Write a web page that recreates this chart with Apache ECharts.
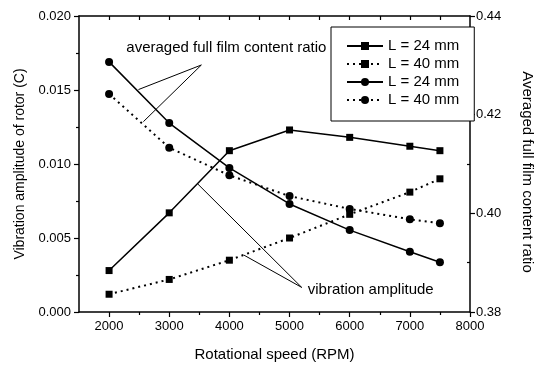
<!DOCTYPE html>
<html>
<head>
<meta charset="utf-8">
<script src="https://cdn.jsdelivr.net/npm/echarts@6/dist/echarts.min.js"></script>
<style>
  html, body { margin: 0; padding: 0; background: #fff; }
  #chart { width: 543px; height: 367px; }
</style>
</head>
<body>
<div id="chart"></div>
<script>
// Rotational speed (RPM)
const speeds = [2000, 3000, 4000, 5000, 6000, 7000, 7500];

// Vibration amplitude of rotor (C), left axis
const amplitude24 = [0.0028, 0.0067, 0.0109, 0.0123, 0.0118, 0.0112, 0.0109];
const amplitude40 = [0.0012, 0.0022, 0.0035, 0.0050, 0.0066, 0.0081, 0.0090];

// Averaged full film content ratio, right axis
const ratio24 = [0.4307, 0.4183, 0.4092, 0.4019, 0.3966, 0.3922, 0.3901];
const ratio40 = [0.4242, 0.4133, 0.4077, 0.4035, 0.4009, 0.3988, 0.3980];

const legendLabels = {
  amp24: 'L = 24 mm',
  amp40: 'L = 40 mm',
  ratio24: 'L = 24 mm',
  ratio40: 'L = 40 mm'
};

const xMajorTicks = [2000, 3000, 4000, 5000, 6000, 7000, 8000];
const xMinorTicks = [2500, 3500, 4500, 5500, 6500, 7500];
const xTopTicks = [2000, 2500, 3000, 3500, 4000, 4500, 5000, 5500, 6000, 6500, 7000, 7500];
const rightMinorTicks = [0.39, 0.41, 0.43];

// Callout anchors in data space [speed, amplitude]
const ratioCallout = { apex: [3534, 0.01669], ends: [[2489, 0.01503], [2570, 0.01286]] };
const ampCallout = { apex: [5203, 0.00166], ends: [[3477, 0.00864], [4239, 0.00385]] };

const FONT = 'Liberation Sans, Arial, Helvetica, sans-serif';
const INK = '#000';

function pairs(ys) { return speeds.map((x, i) => [x, ys[i]]); }

const chart = echarts.init(document.getElementById('chart'), null, { renderer: 'canvas' });

const hiddenLine = { show: false };
const noLabel = { show: false };

const option = {
  backgroundColor: '#fff',
  animation: false,
  grid: { left: 79, right: 63, top: 16, bottom: 50, containLabel: false },
  legend: {
    left: 331, top: 27,
    orient: 'vertical',
    itemWidth: 36, itemHeight: 10, itemGap: 0,
    padding: [10, 15, 12, 15],
    borderColor: INK, borderWidth: 1,
    backgroundColor: '#fff',
    textStyle: { fontFamily: FONT, fontSize: 15, color: INK, lineHeight: 18 },
    formatter: name => legendLabels[name],
    data: ['amp24', 'amp40', 'ratio24', 'ratio40']
  },
  xAxis: [
    {
      type: 'value', min: 1500, max: 8000, position: 'bottom',
      name: 'Rotational speed (RPM)', nameLocation: 'middle', nameGap: 35,
      nameTextStyle: { fontFamily: FONT, fontSize: 15, color: INK },
      axisLine: { show: true, lineStyle: { color: INK, width: 1.5 } },
      axisTick: { show: true, inside: false, length: 5, customValues: xMajorTicks, lineStyle: { color: INK, width: 1.2 } },
      axisLabel: { show: true, customValues: xMajorTicks, margin: 8, fontFamily: FONT, fontSize: 13, color: INK, formatter: v => String(v) },
      splitLine: { show: false }
    },
    {
      type: 'value', min: 1500, max: 8000, position: 'bottom',
      axisLine: hiddenLine,
      axisTick: { show: true, inside: false, length: 3, customValues: xMinorTicks, lineStyle: { color: INK, width: 1.2 } },
      axisLabel: noLabel, splitLine: { show: false }
    },
    {
      type: 'value', min: 1500, max: 8000, position: 'top',
      axisLine: { show: true, lineStyle: { color: INK, width: 1.5 } },
      axisTick: { show: true, inside: true, length: 4, customValues: xTopTicks, lineStyle: { color: INK, width: 1.2 } },
      axisLabel: noLabel, splitLine: { show: false }
    }
  ],
  yAxis: [
    {
      type: 'value', min: 0, max: 0.02, interval: 0.005, position: 'left',
      name: 'Vibration amplitude of rotor (C)', nameLocation: 'middle', nameGap: 52, nameRotate: 90,
      nameTextStyle: { fontFamily: FONT, fontSize: 14, color: INK },
      axisLine: { show: true, lineStyle: { color: INK, width: 1.5 } },
      axisTick: { show: true, inside: false, length: 5, lineStyle: { color: INK, width: 1.2 } },
      minorTick: { show: true, splitNumber: 2, length: 3, lineStyle: { color: INK, width: 1.2 } },
      axisLabel: { margin: 8, fontFamily: FONT, fontSize: 13, color: INK, formatter: v => v.toFixed(3) },
      splitLine: { show: false }
    },
    {
      type: 'value', min: 0.38, max: 0.44, interval: 0.02, position: 'right', offset: 0,
      name: 'Averaged full film content ratio', nameLocation: 'middle', nameGap: 50, nameRotate: -90,
      nameTextStyle: { fontFamily: FONT, fontSize: 15, color: INK, padding: [0, 0, 0, 16] },
      axisLine: { show: true, lineStyle: { color: INK, width: 1.5 } },
      axisTick: { show: true, inside: false, length: 5, lineStyle: { color: INK, width: 1.2 } },
      axisLabel: { margin: 6, fontFamily: FONT, fontSize: 13, color: INK, formatter: v => v.toFixed(2) },
      splitLine: { show: false }
    },
    {
      type: 'value', min: 0.38, max: 0.44, position: 'right', offset: 0,
      axisLine: hiddenLine,
      axisTick: { show: true, inside: true, length: 3, customValues: rightMinorTicks, lineStyle: { color: INK, width: 1.2 } },
      axisLabel: noLabel, splitLine: { show: false }
    }
  ],
  series: [
    {
      name: 'amp24', type: 'line', xAxisIndex: 0, yAxisIndex: 0,
      data: pairs(amplitude24),
      symbol: 'rect', symbolSize: 7,
      lineStyle: { color: INK, width: 1.5, type: 'solid' },
      itemStyle: { color: INK }
    },
    {
      name: 'amp40', type: 'line', xAxisIndex: 0, yAxisIndex: 0,
      data: pairs(amplitude40),
      symbol: 'rect', symbolSize: 7,
      lineStyle: { color: INK, width: 2, type: [2, 4] },
      itemStyle: { color: INK }
    },
    {
      name: 'ratio24', type: 'line', xAxisIndex: 0, yAxisIndex: 1,
      data: pairs(ratio24),
      symbol: 'circle', symbolSize: 8,
      lineStyle: { color: INK, width: 1.5, type: 'solid' },
      itemStyle: { color: INK }
    },
    {
      name: 'ratio40', type: 'line', xAxisIndex: 0, yAxisIndex: 1,
      data: pairs(ratio40),
      symbol: 'circle', symbolSize: 8,
      lineStyle: { color: INK, width: 2, type: [2, 4] },
      itemStyle: { color: INK }
    }
  ]
};

chart.setOption(option);

// Callout leader lines and their captions, anchored through the axes
function toPx(pt) { return chart.convertToPixel({ xAxisIndex: 0, yAxisIndex: 0 }, pt); }

function callout(spec, text, textOffset) {
  const apex = toPx(spec.apex);
  const items = spec.ends.map(e => {
    const p = toPx(e);
    return {
      type: 'line',
      shape: { x1: p[0], y1: p[1], x2: apex[0], y2: apex[1] },
      style: { stroke: INK, lineWidth: 1 },
      z: 50
    };
  });
  items.push({
    type: 'text',
    x: apex[0] + textOffset[0], y: apex[1] + textOffset[1],
    style: { text: text, fontFamily: FONT, fontSize: 15, fill: INK, textVerticalAlign: 'middle', textAlign: textOffset[2] },
    z: 51
  });
  return items;
}

chart.setOption({
  graphic: [].concat(
    callout(ratioCallout, 'averaged full film content ratio', [-75, -17, 'left']),
    callout(ampCallout, 'vibration amplitude', [6, 2, 'left'])
  )
});
</script>
</body>
</html>
